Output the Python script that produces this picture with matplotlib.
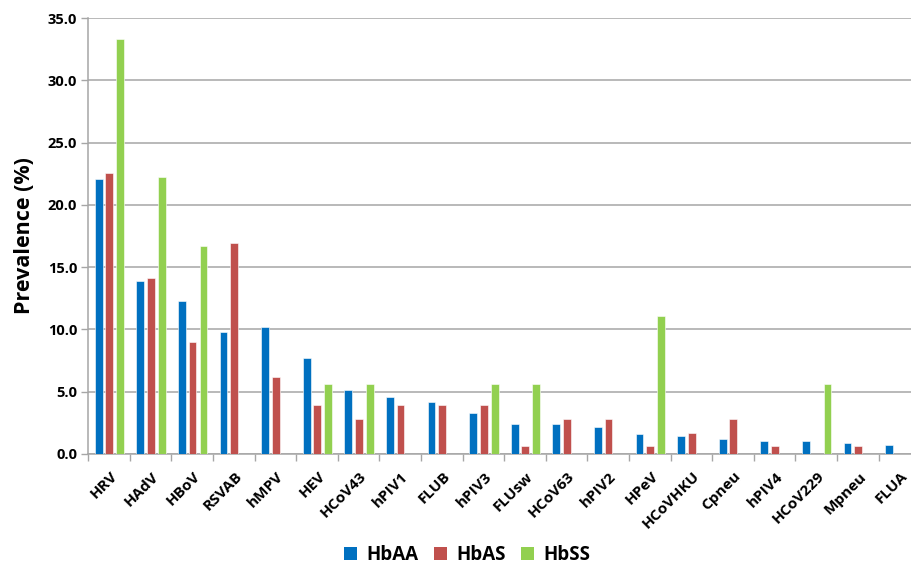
import numpy as np
import matplotlib
matplotlib.use("Agg")
import matplotlib.pyplot as plt
from matplotlib.patches import Patch

plt.rcParams['font.family'] = ['Open Sans', 'DejaVu Sans']
plt.rcParams['font.weight'] = 'bold'

viruses = ['HRV', 'HAdV', 'HBoV', 'RSVAB', 'hMPV', 'HEV', 'HCoV43', 'hPIV1',
           'FLUB', 'hPIV3', 'FLUsw', 'HCoV63', 'hPIV2', 'HPeV', 'HCoVHKU',
           'Cpneu', 'hPIV4', 'HCoV229', 'Mpneu', 'FLUA']
hbaa = [22.1, 13.9, 12.3, 9.8, 10.2, 7.7, 5.1, 4.6, 4.2, 3.3, 2.4, 2.4, 2.2,
        1.6, 1.4, 1.2, 1.0, 1.0, 0.9, 0.7]
hbas = [22.6, 14.1, 9.0, 16.9, 6.2, 3.9, 2.8, 3.9, 3.9, 3.9, 0.6, 2.8, 2.8,
        0.6, 1.7, 2.8, 0.6, 0.0, 0.6, 0.0]
hbss = [33.3, 22.2, 16.7, 0.0, 0.0, 5.6, 5.6, 0.0, 0.0, 5.6, 5.6, 0.0, 0.0,
        11.1, 0.0, 0.0, 0.0, 5.6, 0.0, 0.0]

series = [('HbAA', hbaa, '#0070C0'),
          ('HbAS', hbas, '#C0504D'),
          ('HbSS', hbss, '#92D050')]

fig = plt.figure(figsize=(9.11, 5.66), dpi=100)
# axes run slightly past the right edge of the canvas
ax = fig.add_axes([0.0969, 0.198, 0.9133, 0.770])

x = np.arange(len(viruses))
width = 0.19
offsets = [-0.25, 0.005, 0.27]
for (name, vals, col), off in zip(series, offsets):
    v = np.array(vals)
    mask = v > 0
    ax.bar(x[mask] + off, v[mask], width, color=col, edgecolor='white',
           linewidth=0.4, zorder=3, label=name)

ax.set_xlim(-0.5, len(viruses) - 0.5)
ax.set_ylim(0, 35)
ax.set_yticks(np.arange(0, 35.1, 5))
ax.set_yticklabels(['%.1f' % t for t in np.arange(0, 35.1, 5)], fontsize=10.5,
                   fontweight='bold')
ax.yaxis.grid(True, color='#A6A6A6', linewidth=1.1, zorder=0)
ax.tick_params(axis='y', length=5, color='#A6A6A6', width=1, pad=3)

ax.set_xticks(x + 0.02)
ax.set_xticklabels(viruses, rotation=45, ha='right', rotation_mode='anchor',
                   fontsize=11, fontweight='bold')
ax.tick_params(axis='x', length=0, pad=11)
ax.set_xticks(np.arange(-0.5, len(viruses), 1), minor=True)
ax.tick_params(axis='x', which='minor', length=5, color='#A6A6A6', width=1)

for side in ['top', 'right']:
    ax.spines[side].set_visible(False)
for side in ['left', 'bottom']:
    ax.spines[side].set_color('#A6A6A6')
    ax.spines[side].set_linewidth(1.1)

ax.set_ylabel('Prevalence (%)', fontsize=15.5, fontweight='bold', labelpad=9)

handles = [Patch(facecolor=c, label=n) for n, _, c in series]
fig.legend(handles=handles, loc='center', bbox_to_anchor=(0.513, 0.02),
           ncol=3, frameon=False, prop={'size': 13.5, 'weight': 'bold'},
           handlelength=0.7, handleheight=0.7, handletextpad=0.5,
           columnspacing=0.8)

fig.savefig('out.png', dpi=100)
